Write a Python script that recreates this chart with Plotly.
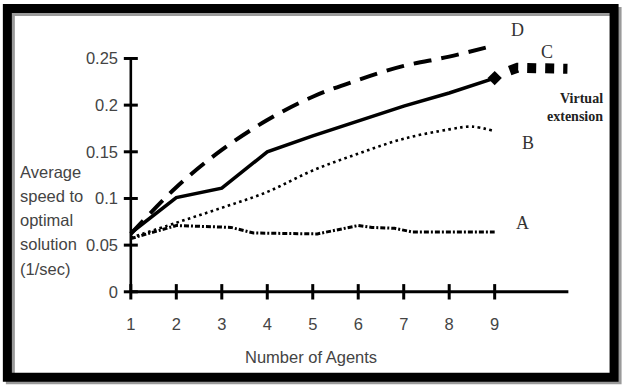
import plotly.graph_objects as go

# ---------------- data ----------------
x_ticks = [1, 2, 3, 4, 5, 6, 7, 8, 9]
y_ticks = [0, 0.05, 0.1, 0.15, 0.2, 0.25]
y_tick_text = ["0", "0.05", "0.1", "0.15", "0.2", "0.25"]

a_x = [1, 2, 3.2, 3.7, 5.1, 5.6, 6.0, 6.3, 6.8, 7.2, 9]
a_y = [0.057, 0.071, 0.069, 0.063, 0.062, 0.067, 0.071, 0.069, 0.068, 0.064, 0.064]

b_x = [1, 2, 3, 4, 5, 6, 7, 8, 8.5, 9]
b_y = [0.058, 0.074, 0.090, 0.107, 0.130, 0.148, 0.164, 0.174, 0.177, 0.172]

c_x = [1, 2, 3, 4, 5, 6, 7, 8, 9]
c_y = [0.063, 0.101, 0.111, 0.150, 0.167, 0.183, 0.199, 0.213, 0.229]

c_ext_x = [9.33, 9.5, 10.6]
c_ext_y = [0.237, 0.240, 0.239]

d_x = [1, 2, 3, 4, 5, 6, 7, 8, 9]
d_y = [0.062, 0.112, 0.152, 0.184, 0.209, 0.227, 0.242, 0.252, 0.264]

y_title_lines = ["Average", "speed to", "optimal", "solution", "(1/sec)"]
x_title = "Number of Agents"
series_labels = ["D", "C", "B", "A"]

# ---------------- layout geometry ----------------
W, H = 624, 386
X_RANGE = [0.85, 10.7]
Y_RANGE = [-0.012, 0.2805]
X_AXIS_END = 10.62
L, R, T, B = 124.2, 51.6, 30, 82.8
PW, PH = W - L - R, H - T - B


def px(xp):
    return (xp - L) / PW


def py(yp):
    return (H - B - yp) / PH


SANS = "Liberation Sans, Arial, sans-serif"
SERIF = "Liberation Serif, Times New Roman, serif"
GRAY = "#444444"

fig = go.Figure()

fig.add_trace(go.Scatter(x=a_x, y=a_y, mode="lines",
                         line=dict(color="black", width=3, dash="5px,2px,2px,2px")))
fig.add_trace(go.Scatter(x=b_x, y=b_y, mode="lines", line_shape="spline",
                         line=dict(color="black", width=2.6, dash="2.6px,3.4px")))
fig.add_trace(go.Scatter(x=d_x, y=d_y, mode="lines", line_shape="spline",
                         line=dict(color="black", width=4, dash="18px,10px")))
fig.add_trace(go.Scatter(x=c_x, y=c_y, mode="lines",
                         line=dict(color="black", width=3.5)))
fig.add_trace(go.Scatter(x=[c_x[-1]], y=[c_y[-1]], mode="markers", cliponaxis=False,
                         marker=dict(symbol="diamond", size=11, color="black")))
fig.add_trace(go.Scatter(x=c_ext_x, y=c_ext_y, mode="lines",
                         line=dict(color="black", width=10, dash="9px,9px")))

# axis tick marks crossing the axes
fig.add_trace(go.Scatter(x=[x_ticks[0]] * len(y_ticks), y=y_ticks, mode="markers",
                         cliponaxis=False,
                         marker=dict(symbol="line-ew", size=10,
                                     line=dict(color="black", width=3))))
fig.add_trace(go.Scatter(x=x_ticks, y=[y_ticks[0]] * len(x_ticks), mode="markers",
                         cliponaxis=False,
                         marker=dict(symbol="line-ns", size=11,
                                     line=dict(color="black", width=3))))

shapes = [
    # axis lines
    dict(type="line", xref="x", yref="y", x0=x_ticks[0], x1=x_ticks[0],
         y0=y_ticks[0], y1=y_ticks[-1], line=dict(color="black", width=2.6)),
    dict(type="line", xref="x", yref="y", x0=x_ticks[0], x1=X_AXIS_END,
         y0=y_ticks[0], y1=y_ticks[0], line=dict(color="black", width=3)),
    # frame shadow and frame
    dict(type="rect", xref="paper", yref="paper", layer="below",
         x0=px(10.5), x1=px(617.5), y0=py(11.5), y1=py(380),
         line=dict(color="#9a9a9a", width=9)),
    dict(type="rect", xref="paper", yref="paper",
         x0=px(7.5), x1=px(614.5), y0=py(8.5), y1=py(377.5),
         line=dict(color="black", width=9)),
]

annotations = []
for i, t in enumerate(y_title_lines):
    annotations.append(dict(text=t, xref="paper", yref="paper", x=px(18), y=py(172 + 24.2 * i),
                            xanchor="left", yanchor="middle", showarrow=False,
                            font=dict(family=SANS, size=16.5, color=GRAY)))
annotations.append(dict(text=x_title, xref="paper", yref="paper", x=px(311), y=py(357),
                        xanchor="center", yanchor="middle", showarrow=False,
                        font=dict(family=SANS, size=16.5, color=GRAY)))

label_pos = [(518, 29.5), (547.5, 52), (528, 143.5), (523, 223)]
for lab, (lx, ly) in zip(series_labels, label_pos):
    annotations.append(dict(text=lab, xref="paper", yref="paper", x=px(lx), y=py(ly),
                            showarrow=False, xanchor="center", yanchor="middle",
                            font=dict(family=SERIF, size=18, color="#333333")))
for t, yp in [("Virtual", 99), ("extension", 116.5)]:
    annotations.append(dict(text="<b>" + t + "</b>", xref="paper", yref="paper",
                            x=px(605), y=py(yp), xanchor="right", yanchor="middle",
                            showarrow=False,
                            font=dict(family=SERIF, size=14, color="#222222")))

fig.update_layout(
    width=W, height=H,
    margin=dict(l=L, r=R, t=T, b=B, pad=0),
    paper_bgcolor="white", plot_bgcolor="white",
    showlegend=False, hovermode=False,
    shapes=shapes, annotations=annotations,
    xaxis=dict(range=X_RANGE, showgrid=False, zeroline=False, showline=False,
               tickmode="array", tickvals=x_ticks, ticktext=[str(v) for v in x_ticks],
               ticks="", ticklabelstandoff=9,
               tickfont=dict(family=SANS, size=16.5, color=GRAY)),
    yaxis=dict(range=Y_RANGE, showgrid=False, zeroline=False, showline=False,
               tickmode="array", tickvals=y_ticks, ticktext=y_tick_text,
               ticks="", ticklabelstandoff=5,
               tickfont=dict(family=SANS, size=16.5, color=GRAY)),
)

fig.write_html("out.html", config={"displayModeBar": False},
               post_script="document.body.style.margin='0px';document.body.style.overflow='hidden';")
